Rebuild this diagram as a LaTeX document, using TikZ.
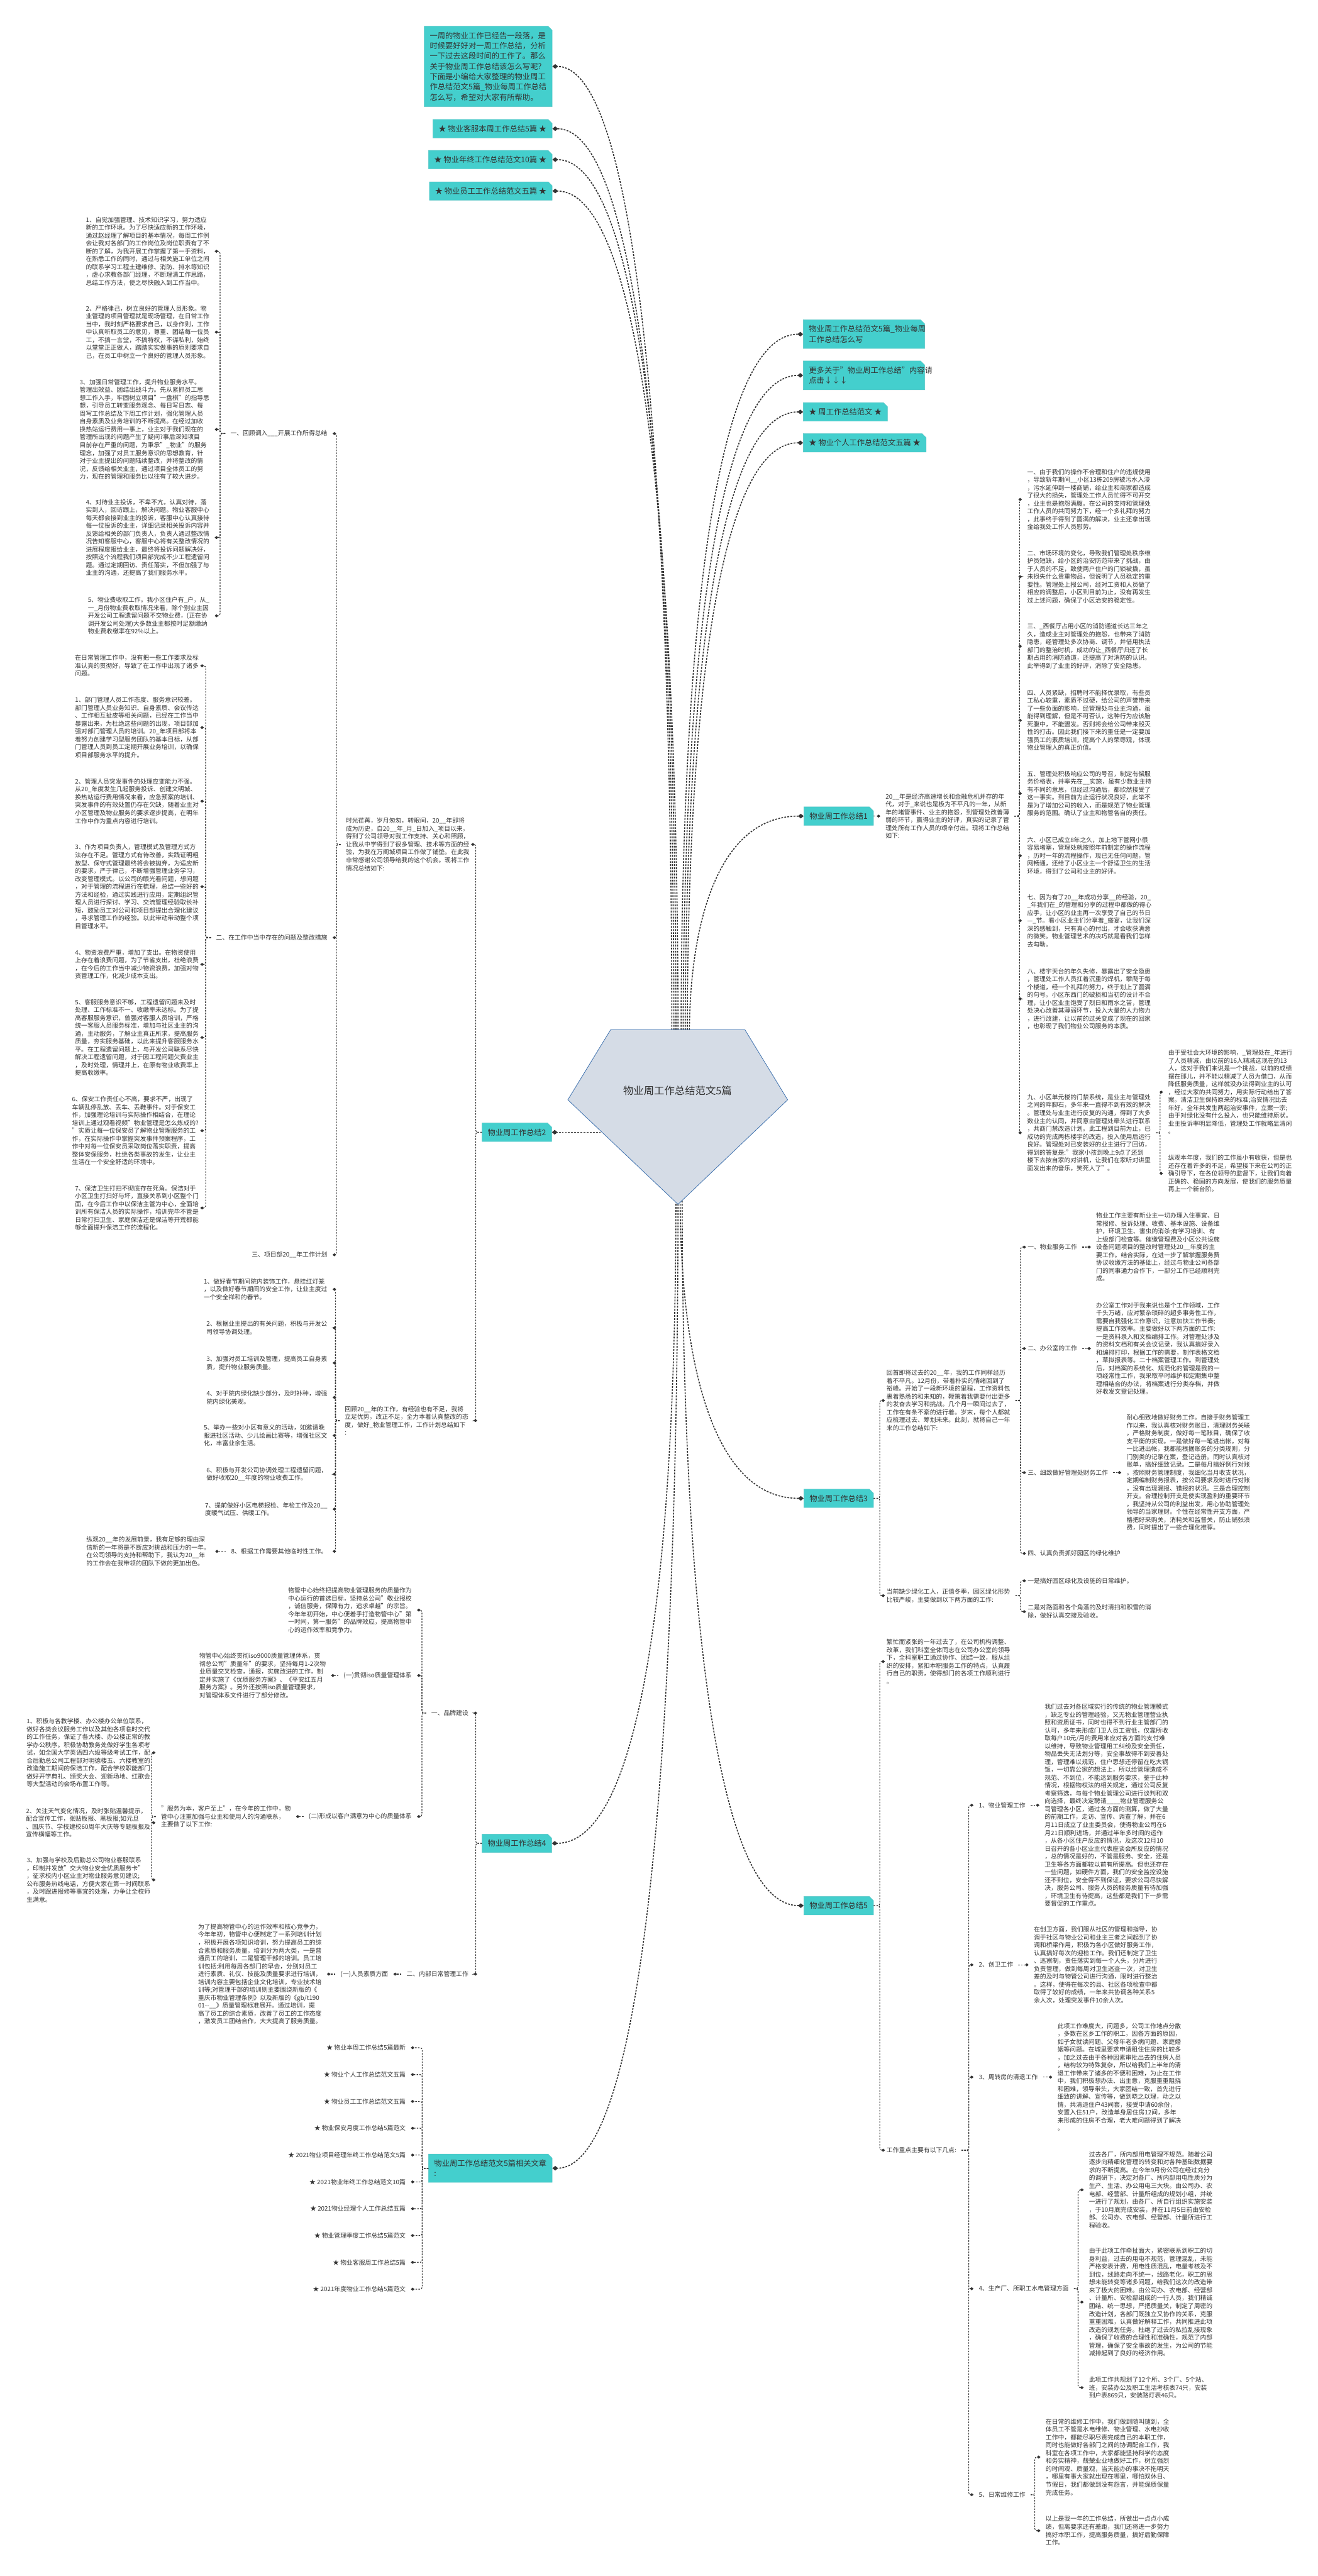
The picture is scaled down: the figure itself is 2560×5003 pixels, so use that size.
\documentclass[tikz,border=0pt]{standalone}
\usepackage{fontspec}
\setmainfont{Noto Sans CJK SC}
\usetikzlibrary{arrows.meta,shapes.misc}
\definecolor{ink}{HTML}{333333}
\definecolor{topicfill}{HTML}{44CFCD}
\definecolor{topicedge}{HTML}{5DC6C6}
\definecolor{rootfill}{HTML}{D5DCE6}
\definecolor{rootedge}{HTML}{3F72AF}
\begin{document}
\begin{tikzpicture}[x=1pt,y=-1pt,
  txt/.style={font=\fontsize{12}{15.3}\selectfont,text=ink,align=left,inner xsep=10pt,inner ysep=1pt},
  lt/.style={txt,anchor=east},
  rt/.style={txt,anchor=west},
  topic/.style={chamfered rectangle,chamfered rectangle corners=north east,chamfered rectangle xsep=4pt,chamfered rectangle ysep=4pt,
    fill=topicfill,draw=topicedge,line width=0.6pt,text=ink,font=\fontsize{15}{20}\selectfont,align=left,inner xsep=7pt,inner ysep=7pt},
  link/.style={draw=ink,line width=1.4pt,dash pattern=on 3pt off 2.5pt,rounded corners=4pt,-{Diamond[length=7pt,width=6pt]}},
  main/.style={draw=ink,line width=2pt,dash pattern=on 3.5pt off 2.5pt,-{Diamond[length=11pt,width=9pt]}}]
\useasboundingbox[fill=white] (0,0) rectangle (2560,5003);

\coordinate (roottop) at (1317,2012);
\coordinate (rootbot) at (1317,2320);
\coordinate (rootleft) at (1185,2199);

% top left
\node[topic,anchor=east] (intro) at (1073,129) {一周的物业工作已经告一段落，是\\时候要好好对一周工作总结，分析\\一下过去这段时间的工作了。那么\\关于物业周工作总结该怎么写呢?\\下面是小编给大家整理的物业周工\\作总结范文5篇\_物业每周工作总结\\怎么写，希望对大家有所帮助。};
\node[topic,anchor=east] (kefu) at (1073,250) {★ 物业客服本周工作总结5篇 ★};
\node[topic,anchor=east] (nianzhong) at (1073,310) {★ 物业年终工作总结范文10篇 ★};
\node[topic,anchor=east] (yuangong) at (1073,371) {★ 物业员工工作总结范文五篇 ★};

% top right
\node[topic,anchor=west,text width=214pt] (title) at (1560,649) {物业周工作总结范文5篇\_物业每周\\工作总结怎么写};
\node[topic,anchor=west,text width=214pt] (more) at (1560,729) {更多关于"物业周工作总结"内容请\\点击↓↓↓};
\node[topic,anchor=west] (zhou) at (1560,800) {★ 周工作总结范文 ★};
\node[topic,anchor=west] (geren) at (1560,860) {★ 物业个人工作总结范文五篇 ★};

% summaries
\node[topic,anchor=west] (sum1) at (1561,1585) {物业周工作总结1};
\node[topic,anchor=east] (sum2) at (1072,2199) {物业周工作总结2};
\node[topic,anchor=west] (sum3) at (1561,2910) {物业周工作总结3};
\node[topic,anchor=east] (sum4) at (1072,3580) {物业周工作总结4};
\node[topic,anchor=west] (sum5) at (1561,3701) {物业周工作总结5};
\node[topic,anchor=east] (rel) at (1073,4211) {物业周工作总结范文5篇相关文章\\:};

\draw[main] ([xshift=-12pt]roottop) .. controls +(0,-940) and +(180,0) .. (intro.east);
\draw[main] ([xshift=-8pt]roottop) .. controls +(0,-880) and +(185,0) .. (kefu.east);
\draw[main] ([xshift=-4pt]roottop) .. controls +(0,-850) and +(190,0) .. (nianzhong.east);
\draw[main] (roottop) .. controls +(0,-815) and +(190,0) .. (yuangong.east);
\draw[main] ([xshift=6pt]roottop) .. controls +(0,-680) and +(-185,0) .. (title.west);
\draw[main] ([xshift=10pt]roottop) .. controls +(0,-640) and +(-180,0) .. (more.west);
\draw[main] ([xshift=14pt]roottop) .. controls +(0,-600) and +(-178,0) .. (zhou.west);
\draw[main] ([xshift=18pt]roottop) .. controls +(0,-570) and +(-175,0) .. (geren.west);
\draw[main] ([xshift=22pt]roottop) .. controls +(0,-210) and +(-170,0) .. (sum1.west);
\draw[main] (rootleft) -- (sum2.east);
\draw[main] ([xshift=4pt]rootbot) .. controls +(0,300) and +(-185,0) .. (sum3.west);
\draw[main] ([xshift=-4pt]rootbot) .. controls +(0,630) and +(190,0) .. (sum4.east);
\draw[main] ([xshift=8pt]rootbot) .. controls +(0,690) and +(-185,0) .. (sum5.west);
\draw[main] (rootbot) .. controls +(0,950) and +(190,0) .. (rel.east);

\draw[fill=rootfill,draw=rootedge,line width=1pt] (1186,2000) -- (1447,2000) -- (1530,2136) -- (1317,2339) -- (1103,2136) -- cycle;
\node[font=\fontsize{20}{24}\selectfont,text=ink] (root) at (1316,2118) {物业周工作总结范文5篇};

% summary 2
\node[lt] (w2a) at (922,1640) {时光荏苒，岁月匆匆，转眼间，20\_\_年即将\\成为历史，自20\_\_年\_月\_日加入\_项目以来，\\得到了公司领导对我工作支持、关心和照顾，\\让我从中学得到了很多管理、技术等方面的经\\验，为我在万阁城项目工作做了铺垫。在此我\\非常感谢公司领导给我的这个机会。现将工作\\情况总结如下:};
\node[lt] (w2b) at (920,2759) {回顾20\_\_年的工作，有经验也有不足，我将\\立足优势，改正不足，全力本着认真整改的态\\度，做好\_物业管理工作，工作计划总结如下\\:};
\draw[link] (sum2.west) -- ++(-12,0) |- (w2a.east);
\draw[link] (sum2.west) -- ++(-12,0) |- (w2b.east);

\node[lt] (sec1) at (646,842) {一、回顾调入\_\_\_开展工作所得总结};
\node[lt] (sec2) at (646,1821) {二、在工作中当中存在的问题及整改措施};
\node[lt] (sec3) at (646,2437) {三、项目部20\_\_年工作计划};
\draw[link] (w2a.west) -- ++(-8,0) |- (sec1.east);
\draw[link] (w2a.west) -- ++(-8,0) |- (sec2.east);
\draw[link] (w2a.west) -- ++(-8,0) |- (sec3.east);

\node[lt] (s1a) at (417,488) {1、自觉加强管理、技术知识学习，努力适应\\新的工作环境。为了尽快适应新的工作环境，\\通过赵经理了解项目的基本情况，每周工作例\\会让我对各部门的工作岗位及岗位职责有了不\\断的了解，为我开展工作掌握了第一手资料，\\在熟悉工作的同时，通过与相关施工单位之间\\的联系学习工程土建维修、消防、排水等知识\\，虚心求教各部门经理，不断理清工作思路，\\总结工作方法，使之尽快融入到工作当中。};
\node[lt] (s1b) at (417,645) {2、严格律己，树立良好的管理人员形象。物\\业管理的项目管理就是现场管理，在日常工作\\当中，我时刻严格要求自己，以身作则，工作\\中认真听取员工的意见，尊重、团结每一位员\\工，不搞一言堂，不搞特权，不谋私利，始终\\以堂堂正正做人，踏踏实实做事的原则要求自\\己，在员工中树立一个良好的管理人员形象。};
\node[lt] (s1c) at (417,834) {3、加强日常管理工作，提升物业服务水平。\\管理出效益、团结出战斗力。先从紧抓员工思\\想工作入手，牢固树立项目"一盘棋"的指导思\\想，引导员工转变服务观念、每日写日志、每\\周写工作总结及下周工作计划，强化管理人员\\自身素质及业务培训的不断提高。在经过加收\\换热站运行费用一事上，业主对于我们现在的\\管理所出现的问题产生了疑问?事后深知项目\\目前存在严重的问题，为秉承"\_物业"的服务\\理念，加强了对员工服务意识的思想教育，针\\对于业主提出的问题陆续整改，并将整改的情\\况，反馈给相关业主，通过项目全体员工的努\\力，现在的管理和服务比以往有了较大进步。};
\node[lt] (s1d) at (417,1044) {4、对待业主投诉，不卑不亢，认真对待，落\\实到人，回访跟上，解决问题。物业客服中心\\每天都会接到业主的投诉，客服中心认真接待\\每一位投诉的业主，详细记录相关投诉内容并\\反馈给相关的部门负责人，负责人通过整改情\\况告知客服中心，客服中心将有关整改情况的\\进展程度报给业主，最终将投诉问题解决好，\\按照这个流程我们项目部完成不少工程遗留问\\题。通过定期回访、责任落实，不但加强了与\\业主的沟通，还提高了我们服务水平。};
\node[lt] (s1e) at (417,1196) {5、物业费收取工作。我小区住户有\_户，从\_\\一\_月份物业费收取情况来看，除个别业主因\\开发公司工程遗留问题不交物业费，(正在协\\调开发公司处理)大多数业主都按时足额缴纳\\物业费收缴率在92\%以上。};
\foreach \n in {s1a,s1b,s1c,s1d,s1e}{\draw[link] (sec1.west) -- ++(-10,0) |- (\n.east);}

\node[lt] (s2a) at (396,1293) {在日常管理工作中，没有把一些工作要求及标\\准认真的贯彻好，导致了在工作中出现了诸多\\问题。};
\node[lt] (s2b) at (396,1413) {1、部门管理人员工作态度、服务意识较差。\\部门管理人员业务知识、自身素质、会议传达\\、工作相互扯皮等相关问题，已经在工作当中\\暴露出来，为杜绝这些问题的出现，项目部加\\强对部门管理人员的培训。20\_年项目部将本\\着努力创建学习型服务团队的基本目标，从部\\门管理人员到员工定期开展业务培训，以确保\\项目部服务水平的提升。};
\node[lt] (s2c) at (396,1556) {2、管理人员突发事件的处理应变能力不强。\\从20\_年度发生几起服务投诉、创建文明城、\\换热站运行费用情况来看，应急预案的培训、\\突发事件的有效处置仍存在欠缺，随着业主对\\小区管理及物业服务的要求逐步提高，在明年\\工作中作为重点内容进行培训。};
\node[lt] (s2d) at (396,1722) {3、作为项目负责人，管理模式及管理方式方\\法存在不足。管理方式有待改善，实践证明粗\\放型、保守式管理最终将会被抛弃，为适应新\\的要求，严于律己，不断增强管理业务学习，\\改变管理模式。以公司的眼光看问题，想问题\\，对于管理的流程进行在梳理，总结一些好的\\方法和经验，通过实践进行应用，定期组织管\\理人员进行探讨、学习、交流管理经验取长补\\短，鼓励员工对公司和项目部提出合理化建议\\，寻求管理工作的经验。以此带动带动整个项\\目管理水平。};
\node[lt] (s2e) at (396,1873) {4、物资浪费严重，增加了支出。在物资使用\\上存在着浪费问题，为了节省支出，杜绝浪费\\，在今后的工作当中减少物资浪费，加强对物\\资管理工作，化减少成本支出。};
\node[lt] (s2f) at (396,2015) {5、客服服务意识不够，工程遗留问题未及时\\处理、工作标准不一、收缴率未达标。为了提\\高客服服务意识，曾强对客服人员培训，严格\\统一客服人员服务标准，增加与社区业主的沟\\通，主动服务，了解业主真正所求，提高服务\\质量，夯实服务基础，以此来提升客服服务水\\平。在工程遗留问题上，与开发公司联系尽快\\解决工程遗留问题，对于因工程问题欠费业主\\，及时处理，情理并上，在原有物业收费率上\\提高收缴率。};
\node[lt] (s2g) at (396,2196) {6、保安工作责任心不高，要求不严，出现了\\车辆乱停乱放、丢车、丢鞋事件。对于保安工\\作，加强理论培训与实际操作相结合，在理论\\培训上通过观看视频"物业管理是怎么炼成的?\\"实质让每一位保安员了解物业管理服务的工\\作，在实际操作中掌握突发事件预案程序，工\\作中对每一位保安员采取岗位落实职责，提高\\整体安保服务，杜绝各类事故的发生，让业主\\生活在一个安全舒适的环境中。};
\node[lt] (s2h) at (396,2346) {7、保洁卫生打扫不彻底存在死角。保洁对于\\小区卫生打扫好与坏，直接关系到小区整个门\\面，在今后工作中以保洁主管为中心，全面培\\训所有保洁人员的实际操作，培训完毕不管是\\日常打扫卫生、家庭保洁还是保洁等开荒都能\\够全面提升保洁工作的流程化。};
\foreach \n in {s2a,s2b,s2c,s2d,s2e,s2f,s2g,s2h}{\draw[link] (sec2.west) -- ++(-10,0) |- (\n.east);}

\node[lt] (b1) at (646,2504) {1、做好春节期间院内装饰工作，悬挂红灯笼\\，以及做好春节期间的安全工作，让业主度过\\一个安全祥和的春节。};
\node[lt] (b2) at (646,2579) {2、根据业主提出的有关问题，积极与开发公\\司领导协调处理。};
\node[lt] (b3) at (646,2647) {3、加强对员工培训及管理，提高员工自身素\\质，提升物业服务质量。};
\node[lt] (b4) at (646,2714) {4、对于院内绿化缺少部分，及时补种，增强\\院内绿化美观。};
\node[lt] (b5) at (646,2788) {5、举办一些对小区有意义的活动，如邀请晚\\报进社区活动、少儿绘画比赛等，增强社区文\\化，丰富业余生活。};
\node[lt] (b6) at (646,2863) {6、积极与开发公司协调处理工程遗留问题，\\做好收取20\_\_年度的物业收费工作。};
\node[lt] (b7) at (646,2931) {7、提前做好小区电梯报检、年检工作及20\_\_\\度暖气试压、供暖工作。};
\node[lt] (b8) at (646,3013) {8、根据工作需要其他临时性工作。};
\foreach \n in {b1,b2,b3,b4,b5,b6,b7,b8}{\draw[link] (w2b.west) -- ++(-8,0) |- (\n.east);}
\node[lt] (b8a) at (418,3013) {纵观20\_\_年的发展前景，我有足够的理由深\\信新的一年将是不断应对挑战和压力的一年。\\在公司领导的支持和帮助下，我认为20\_\_年\\的工作会在我带领的团队下做的更加出色。};
\draw[link] (b8.west) -- (b8a.east);

% summary 4
\node[lt] (brand) at (920,3327) {一、品牌建设};
\node[lt] (inner) at (920,3834) {二、内部日常管理工作};
\draw[link] (sum4.west) -- ++(-12,0) |- (brand.east);
\draw[link] (sum4.west) -- ++(-12,0) |- (inner.east);
\node[lt] (brand1) at (810,3127) {物管中心始终把提高物业管理服务的质量作为\\中心运行的首选目标，坚持总公司"敬业报校\\，诚信服务，保障有力，追求卓越"的宗旨。\\今年年初开始，中心便着手打造物管中心"第\\一时间，第一服务"的品牌效应，提高物管中\\心的运作效率和竞争力。};
\node[lt] (iso) at (810,3254) {(一)贯彻iso质量管理体系};
\node[lt] (client) at (810,3528) {(二)形成以客户满意为中心的质量体系};
\foreach \n in {brand1,iso,client}{\draw[link] (brand.west) -- ++(-8,0) |- (\n.east);}
\node[lt] (iso1) at (643,3254) {物管中心始终贯彻iso9000质量管理体系，贯\\彻总公司"质量年"的要求，坚持每月1-2次物\\业质量交叉检查，通报，实施改进的工作，制\\定并实施了《优质服务方案》、《平安红五月\\服务方案》。另外还按照iso质量管理要求，\\对管理体系文件进行了部分修改。};
\draw[link] (iso.west) -- (iso1.east);
\node[lt] (client1) at (575,3528) {"服务为本，客户至上"，在今年的工作中，物\\管中心注重加强与业主和使用人的沟通联系，\\主要做了以下工作:};
\draw[link] (client.west) -- (client1.east);
\node[lt] (c1) at (302,3404) {1、积极与各教学楼、办公楼办公单位联系，\\做好各类会议服务工作以及其他各项临时交代\\的工作任务，保证了各大楼、办公楼正常的教\\学办公秩序。积极协助教务处做好学生各项考\\试，如全国大学英语四六级等级考试工作，配\\合后勤总公司工程部对明德楼五、六楼教室的\\改造施工期间的保洁工作，配合学校职能部门\\做好开学典礼、颁奖大会、迎新场地、红歌会\\等大型活动的会场布置工作等。};
\node[lt] (c2) at (302,3540) {2、关注天气变化情况，及时张贴温馨提示，\\配合宣传工作，张贴板报、黑板报;如元旦\\、国庆节、学校建校60周年大庆等专题板报及\\宣传横幅等工作。};
\node[lt] (c3) at (302,3651) {3、加强与学校及后勤总公司物业客服联系\\，印制并发放"交大物业安全优质服务卡"\\，征求校内小区业主对物业服务意见建议;\\公布服务热线电话，方便大家在第一时间联系\\，及时跟进报修等事宜的处理，力争让全校师\\生满意。};
\foreach \n in {c1,c2,c3}{\draw[link] (client1.west) -- ++(-8,0) |- (\n.east);}
\node[lt] (staff) at (764,3834) {(一)人员素质方面};
\draw[link] (inner.west) -- (staff.east);
\node[lt] (staff1) at (635,3834) {为了提高物管中心的运作效率和核心竞争力，\\今年年初，物管中心便制定了一系列培训计划\\，积极开展各项知识培训，努力提高员工的综\\合素质和服务质量。培训分为两大类，一是普\\通员工的培训，二是管理干部的培训。员工培\\训包括:利用每周各部门的早会，分别对员工\\进行素质、礼仪、技能及质量要求进行培训，\\培训内容主要包括企业文化培训，专业技术培\\训等;对管理干部的培训则主要围绕新版的《\\重庆市物业管理条例》以及新版的《gb/t190\\01-{}-\_\_》质量管理标准展开。通过培训，提\\高了员工的综合素质，改善了员工的工作态度\\，激发员工团结合作，大大提高了服务质量。};
\draw[link] (staff.west) -- (staff1.east);

% related articles
\foreach \t [count=\i] in {物业本周工作总结5篇最新,物业个人工作总结范文五篇,物业员工工作总结范文五篇,物业保安月度工作总结5篇范文,2021物业项目经理年终工作总结范文5篇,2021物业年终工作总结范文10篇,2021物业经理个人工作总结五篇,物业管理季度工作总结5篇范文,物业客服周工作总结5篇,2021年度物业工作总结5篇范文}{
  \node[lt] (r\i) at (798,{3977+52.1*(\i-1)}) {★ \t};
  \draw[link] (rel.west) -- ++(-12,0) |- (r\i.east);
}

% summary 1
\node[rt] (w1a) at (1710,1585) {20\_\_年是经济高速增长和金融危机并存的年\\代，对于\_来说也是极为不平凡的一年，从新\\年的堵管事件、业主的抱怨，到管理处改善薄\\弱的环节，赢得业主的好评，真实的记录了管\\理处所有工作人员的艰辛付出。现将工作总结\\如下:};
\draw[link] (sum1.east) -- (w1a.west);
\node[rt] (e1) at (1985,970) {一、由于我们的操作不合理和住户的违规使用\\，导致新年期间\_\_小区13栋209房被污水入浸\\，污水延伸到一楼商铺，给业主和商家都造成\\了很大的损失，管理处工作人员忙得不可开交\\，业主也是抱怨满腹。在公司的支持和管理处\\工作人员的共同努力下，经一个多礼拜的努力\\，此事终于得到了圆满的解决，业主还拿出现\\金给我处工作人员慰劳。};
\node[rt] (e2) at (1985,1120) {二、市场环境的变化，导致我们管理处秩序维\\护员短缺，给小区的治安防范带来了挑战，由\\于人员的不足，致使两户住户的门锁被撬，虽\\未损失什么贵重物品，但说明了人员稳定的重\\要性。管理处上报公司，经对工资和人员做了\\相应的调整后，小区到目前为止，没有再发生\\过上述问题，确保了小区治安的稳定性。};
\node[rt] (e3) at (1985,1255) {三、\_西餐厅占用小区的消防通道长达三年之\\久，造成业主对管理处的抱怨，也带来了消防\\隐患，经管理处多次协商、调节，并借用执法\\部门的整治时机，成功的让\_西餐厅归还了长\\期占用的消防通道，还提高了对消防的认识。\\此举得到了业主的好评，消除了安全隐患。};
\node[rt] (e4) at (1985,1399) {四、人员紧缺，招聘时不能择优录取，有些员\\工私心较重，素质不过硬，给公司的声誉带来\\了一些负面的影响，经管理处与业主沟通，虽\\能得到理解，但是不可否认，这种行为应该胎\\死腹中，不能盟发。否则将会给公司带来毁灭\\性的打击。因此我们接下来的重任是一定要加\\强员工的素质培训，提高个人的荣辱观，体现\\物业管理人的真正价值。};
\node[rt] (e5) at (1985,1541) {五、管理处积极响应公司的号召，制定有偿服\\务价格表，并率先在\_\_实施，虽有少数业主持\\有不同的意思，但经过沟通后，都欣然接受了\\这一事实。到目前为止运行状况良好，此举不\\是为了增加公司的收入，而是规范了物业管理\\服务的范围。确认了业主和物管各自的责任。};
\node[rt] (e6) at (1985,1662) {六、小区已成立8年之久，加上地下管网小很\\容易堵塞，管理处就按照年前制定的操作流程\\，历时一年的流程操作，现已无任何问题，管\\网畅通，还给了小区业主一个舒适卫生的生活\\环境，得到了公司和业主的好评。};
\node[rt] (e7) at (1985,1788) {七、因为有了20\_\_年成功分享\_\_的经验，20\_\\\_年我们在\_的管理和分享的过程中都做的得心\\应手，让小区的业主再一次享受了自己的节日\\—\_节。看小区业主们分享着\_盛宴，让我们深\\深的感触到，只有真心的付出，才会收获满意\\的微笑。物业管理艺术的决巧就是看我们怎样\\去勾勒。};
\node[rt] (e8) at (1985,1940) {八、楼宇天台的年久失修，暴露出了安全隐患\\，管理处工作人员扛着沉重的焊机，攀爬于每\\个楼道，经一个礼拜的努力，终于划上了圆满\\的句号。小区东西门的破损和当初的设计不合\\理，让小区业主饱受了烈日和雨水之苦，管理\\处决心改善其薄弱环节，投入大量的人力物力\\，进行改建，让以前的过关变成了现在的回家\\，也彰现了我们物业公司服务的本质。};
\node[rt] (e9) at (1985,2200) {九、小区单元楼的门禁系统，是业主与管理处\\之间的畔脚石，多年来一直得不到有效的解决\\。管理处与业主进行反复的沟通，得到了大多\\数业主的认同，并同意由管理处牵头进行联系\\，共商门禁改造计划。此工程到目前为止，已\\成功的完成两栋楼宇的改造，投入使用后运行\\良好。管理处对已安装好的业主进行了回访，\\得到的答复是:"我家小孩到晚上9点了还到\\楼下去按自家的对讲机，让我们在家听对讲里\\面发出来的音乐，笑死人了"。};
\foreach \n in {e1,e2,e3,e4,e5,e6,e7,e8,e9}{\draw[link] (w1a.east) -- ++(10,0) |- (\n.west);}
\node[rt] (e9a) at (2259,2121) {由于受社会大环境的影响，\_管理处在\_年进行\\了人员精减，由以前的16人精减这现在的13\\人，这对于我们来说是一个挑战，以前的成绩\\摆在那儿，并不能以精减了人员为借口，从而\\降低服务质量，这样就没办法得到业主的认可\\，经过大家的共同努力，用实际行动给出了答\\案。清洁卫生保持原来的标准;治安情况比去\\年好，全年共发生两起治安事件，立案一宗;\\由于对绿化没有什么投入，也只能维持原状。\\业主投诉率明显降低，管理处工作就略显清闲\\。};
\node[rt] (e9b) at (2259,2279) {纵观本年度，我们的工作虽小有收获，但是也\\还存在着许多的不足，希望接下来在公司的正\\确引导下，在各位领导的监督下，让我们向着\\正确的、稳固的方向发展，使我们的服务质量\\再上一个新台阶。};
\draw[link] (e9.east) -- ++(8,0) |- (e9a.west);
\draw[link] (e9.east) -- ++(8,0) |- (e9b.west);

% summary 3
\node[rt] (f1) at (1712,2720) {回首即将过去的20\_\_年，我的工作同样经历\\着不平凡。12月份，带着朴实的情绪回到了\\裕峰。开始了一段新环境的里程，工作资料包\\裹着熟悉的和未知的，鞭策着我需要付出更多\\的发奋去学习和挑战。几个月一瞬间过去了，\\工作在有条不紊的进行着。岁末，每个人都就\\应梳理过去、筹划未来。此刻，就将自己一年\\来的工作总结如下:};
\node[rt] (f2) at (1712,3099) {当前缺少绿化工人，正值冬季，园区绿化形势\\比较严峻，主要做到以下两方面的工作:};
\draw[link] (sum3.east) -- ++(12,0) |- (f1.west);
\draw[link] (sum3.east) -- ++(12,0) |- (f2.west);
\node[rt] (g1) at (1986,2422) {一、物业服务工作};
\node[rt] (g2) at (1986,2619) {二、办公室的工作};
\node[rt] (g3) at (1986,2860) {三、细致做好管理处财务工作};
\node[rt] (g4) at (1986,3017) {四、认真负责抓好园区的绿化维护};
\foreach \n in {g1,g2,g3,g4}{\draw[link] (f1.east) -- ++(10,0) |- (\n.west);}
\node[rt] (g1a) at (2119,2422) {物业工作主要有新业主一切办理入住事宜、日\\常报修、投诉处理、收费、基本设施、设备维\\护，环境卫生、害虫的消杀;有学习培训、有\\上级部门检查等。催缴管理费及小区公共设施\\设备问题项目的整改时管理处20\_\_年度的主\\要工作。结合实际，在进一步了解掌握服务费\\协议收缴方法的基础上，经过与物业公司各部\\门的同事通力合作下，一部分工作已经顺利完\\成。};
\node[rt] (g2a) at (2119,2619) {办公室工作对于我来说也是个工作领域，工作\\千头万绪，应对繁杂琐碎的超多事务性工作，\\需要自我强化工作意识，注意加快工作节奏;\\提高工作效率。主要做好以下两方面的工作:\\一是资料录入和文档编排工作。对管理处涉及\\的资料文档和有关会议记录，我认真搞好录入\\和编排打印，根据工作的需要，制作表格文档\\，草拟报表等。二十档案管理工作。到管理处\\后，对档案的系统化、规范化的管理是我的一\\项经常性工作，我采取平时维护和定期集中整\\理相结合的办法，将档案进行分类存档，并做\\好收发文登记处理。};
\node[rt] (g3a) at (2178,2860) {耐心细致地做好财务工作。自接手财务管理工\\作以来，我认真核对财务账目，清理财务关联\\，严格财务制度，做好每一笔账目，确保了收\\支平衡的实现。一是做好每一笔进出帐，对每\\一比进出帐，我都能根据账务的分类规则，分\\门别类的记录在案，登记造册。同时认真核对\\账单，搞好细致记录。二是每月搞好例行对账\\。按照财务管理制度，我细化当月收支状况，\\定期编制财务报表，按公司要求及时进行对账\\，没有出现漏报、错报的状况。三是合理控制\\开支。合理控制开支是使实现盈利的重要环节\\，我坚持从公司的利益出发，用心协助管理处\\领导的当家理财。个性在经常性开支方面，严\\格把好采购关，消耗关和监督关，防止铺张浪\\费，同时提出了一些合理化推荐。};
\draw[link] (g1.east) -- (g1a.west);
\draw[link] (g2.east) -- (g2a.west);
\draw[link] (g3.east) -- (g3a.west);
\node[rt] (h1) at (1986,3070) {一是搞好园区绿化及设施的日常维护。};
\node[rt] (h2) at (1986,3130) {二是对路面和各个角落的及时清扫和积雪的消\\除，做好认真交接及验收。};
\draw[link] (f2.east) -- ++(10,0) |- (h1.west);
\draw[link] (f2.east) -- ++(10,0) |- (h2.west);

% summary 5
\node[rt] (k1) at (1712,3227) {繁忙而紧张的一年过去了，在公司机构调整、\\改革，我们科室全体同志在公司办公室的领导\\下，全科室职工通过协作、团结一致，服从组\\织的安排，紧扣本职服务工作的特点，认真履\\行自己的职责，使得部门的各项工作顺利进行\\。};
\node[rt] (k2) at (1712,4176) {工作重点主要有以下几点:};
\draw[link] (sum5.east) -- ++(12,0) |- (k1.west);
\draw[link] (sum5.east) -- ++(12,0) |- (k2.west);
\node[rt] (m1) at (1891,3506) {1、物业管理工作};
\node[rt] (m2) at (1891,3816) {2、创卫工作};
\node[rt] (m3) at (1891,4034) {3、周转房的清退工作};
\node[rt] (m4) at (1891,4445) {4、生产厂、所职工水电管理方面};
\node[rt] (m5) at (1891,4845) {5、日常维修工作};
\foreach \n in {m1,m2,m3,m4,m5}{\draw[link] (k2.east) -- ++(14,0) |- (\n.west);}
\node[rt] (m1a) at (2019,3506) {我们过去对各区域实行的传统的物业管理模式\\，缺乏专业的管理经验，又无物业管理营业执\\照和资质证书，同时也得不到行业主管部门的\\认可，多年来形成门卫人员工资低，仅靠所收\\取每户10元/月的费用来应对各方面的支付难\\以维持，导致物业管理用工纠纷及安全责任，\\物品丢失无法划分等，安全事故得不到妥善处\\理，管理难以规范，住户思想还停留在吃大锅\\饭，一切靠公家的想法上，所以给管理造成不\\规范、不到位，不能达到服务要求，鉴于此种\\情况，根据物权法的相关规定，通过公司反复\\考察筛选，与每个物业管理公司进行谈判和双\\向选择，最终决定聘请\_\_\_\_物业管理服务公\\司管理各小区，通过各方面的测算，做了大量\\的前期工作，走访、宣传、调查了解，并在6\\月11日成立了业主委员会，使得物业公司在6\\月21日顺利进场，并通过半年多时间的运作\\，从各小区住户反应的情况，及这次12月10\\日召开的各小区业主代表座谈会所反应的情况\\，总的情况是好的，不管是服务、安全，还是\\卫生等各方面都较以前有所提高。但也还存在\\一些问题，如硬件方面，我们的安全监控设施\\还不到位，安全得不到保证，要求公司尽快解\\决，服务公司、服务人员的服务质量有待加强\\，环境卫生有待提高，这些都是我们下一步需\\要督促的工作重点。};
\node[rt] (m2a) at (1998,3816) {在创卫方面，我们服从社区的管理和指导，协\\调于社区与物业公司和业主三者之间起到了协\\调和桥梁作用，积极为各小区做好服务工作，\\认真搞好每次的迎检工作。我们还制定了卫生\\、巡察制，责任落实到每一个人头，分片进行\\负责管理，做到每周对卫生巡查一次，对卫生\\差的及时与物管公司进行沟通，限时进行整治\\。这样，使得在每次的县、社区各项检查中都\\取得了较好的成绩，一年来共协调各种关系5\\余人次，处理突发事件10余人次。};
\node[rt] (m3a) at (2044,4034) {此项工作难度大，问题多，公司工作地点分散\\，多数在区乡工作的职工，因各方面的原因，\\如子女就读问题、父母年老多病问题、家庭婚\\姻等问题。在城里要求申请租住住房的比较多\\，加之过去由于各种因素审批出去的住房人员\\，结构较为特殊复杂，所以给我们上半年的清\\退工作带来了诸多的不便和困难，为止在工作\\中，我们积极想办法、出主意，克服重重阻挠\\和困难，领导带头，大家团结一致，首先进行\\细致的讲解、宣传等，做到晓之以理，动之以\\情，共清退住户43间套，接受申请60余份，\\安置入住51户，改造单身居住房12间，多年\\来形成的住房不合理，老大难问题得到了解决\\。};
\draw[link] (m1.east) -- (m1a.west);
\draw[link] (m2.east) -- (m2a.west);
\draw[link] (m3.east) -- (m3a.west);
\node[rt] (m4a) at (2105,4253) {过去各厂，所内部用电管理不规范。随着公司\\逐步向精细化管理的转变和对各种基础数据要\\求的不断提高。在今年9月份公司在经过充分\\的调研下，决定对各厂、所内部用电性质分为\\生产、生活、办公用电三大块。由公司办、农\\电部、经营部、计量所组成的规划小组，并统\\一进行了规划，由各厂、所自行组织实施安装\\，于10月底完成安装，并在11月5日前由安检\\部、公司办、农电部、经营部、计量所进行工\\程验收。};
\node[rt] (m4b) at (2105,4471) {由于此项工作牵扯面大，紧密联系到职工的切\\身利益，过去的用电不规范，管理混乱，未能\\严格安表计费，用电性质混乱，电量考核及不\\到位，线路走向不统一，线路老化，职工的思\\想未能转变等诸多问题，给我们这次的改造带\\来了极大的困难。由公司办、农电部、经营部\\、计量所、安检部组成的一行人员，我们精诚\\团结、统一思想，严把质量关，制定了周密的\\改造计划，各部门既独立又协作的关系，克服\\重重困难，认真做好解释工作，共同推进此项\\改造的规划任务。杜绝了过去的私拉乱接现象\\，确保了收费的合理性和准确性，规范了内部\\管理，确保了安全事故的发生，为公司的节能\\减排起到了良好的经济作用。};
\node[rt] (m4c) at (2105,4637) {此项工作共规划了12个所、3个厂、5个站、\\班，安装办公及职工生活考核表74只，安装\\到户表869只，安装路灯表46只。};
\foreach \n in {m4a,m4b,m4c}{\draw[link] (m4.east) -- ++(8,0) |- (\n.west);}
\node[rt] (m5a) at (2021,4772) {在日常的维修工作中，我们做到随叫随到，全\\体员工不管是水电维修、物业管理、水电抄收\\工作中，都能尽职尽责完成自己的本职工作，\\同时也能做好各部门之间的协调配合工作，我\\科室在各项工作中，大家都能坚持科学的态度\\和务实精神，兢兢业业地做好工作，树立强烈\\的时间观、质量观，当天能办的事决不拖明天\\，哪里有事大家就出现在哪里，哪怕双休日、\\节假日，我们都做到没有怨言，并能保质保量\\完成任务。};
\node[rt] (m5b) at (2021,4915) {以上是我一年的工作总结，所做出一点点小成\\绩，但离要求还有差距，我们还将进一步努力\\搞好本职工作，提高服务质量，搞好后勤保障\\工作。};
\draw[link] (m5.east) -- ++(8,0) |- (m5a.west);
\draw[link] (m5.east) -- ++(8,0) |- (m5b.west);
\end{tikzpicture}
\end{document}
